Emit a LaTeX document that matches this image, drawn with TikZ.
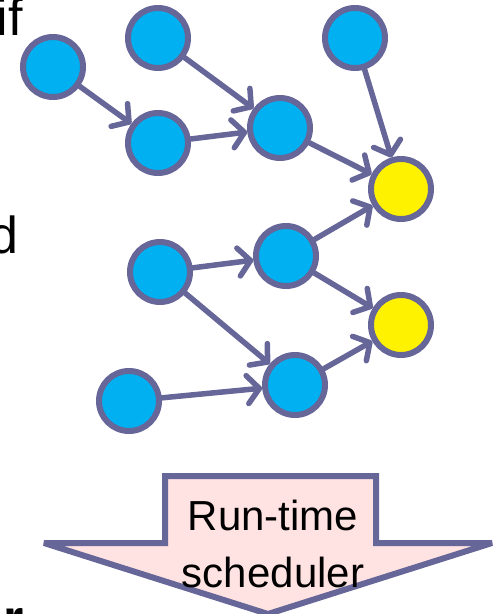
\documentclass[tikz,border=0pt]{standalone}
\usepackage{fontspec}
\setmainfont{Liberation Sans}
\usetikzlibrary{arrows.meta}
\definecolor{edgec}{RGB}{102,102,153}
\definecolor{bluec}{RGB}{0,176,240}
\definecolor{pinkc}{RGB}{255,226,226}
\begin{document}
\begin{tikzpicture}[x=1pt,y=-1pt,
  task/.style={circle,draw=edgec,line width=6pt,fill=bluec,minimum size=60pt,inner sep=0pt,outer sep=3pt},
  sink/.style={task,fill=yellow},
  dep/.style={draw=edgec,line width=5.5pt,line cap=round,-{Straight Barb[length=12pt,width=28pt,round]}},
  big/.style={font=\fontsize{52}{60}\selectfont,inner sep=0pt},
  lbl/.style={font=\fontsize{42}{57}\selectfont,inner sep=0pt}]
\useasboundingbox (0,0) rectangle (493,614);
% clipped side texts
\node[big,anchor=base east] (tif) at (23,35) {if};
\node[big,anchor=base east] (td) at (19,253) {d};
\node[big,anchor=base west,font=\fontsize{52}{60}\selectfont\bfseries] (tr) at (3,636) {r};
% tasks
\node[task] (A) at (53,67) {};
\node[task] (B) at (158,38) {};
\node[task] (C) at (355,38) {};
\node[task] (D) at (158,143) {};
\node[task] (E) at (280,128) {};
\node[sink] (F) at (401,189) {};
\node[task] (G) at (286,256) {};
\node[task] (H) at (160,272) {};
\node[sink] (I) at (401,325) {};
\node[task] (J) at (295,385) {};
\node[task] (K) at (129,401) {};
% dependencies
\draw[dep] (A) -- (D);
\draw[dep] (B) -- (E);
\draw[dep] (D) -- (E);
\draw[dep] (E) -- (F);
\draw[dep] (C) -- (F);
\draw[dep] (G) -- (F);
\draw[dep] (G) -- (I);
\draw[dep] (H) -- (G);
\draw[dep] (H) -- (J);
\draw[dep] (K) -- (J);
\draw[dep] (J) -- (I);
% scheduler arrow
\draw[draw=edgec,fill=pinkc,line width=6pt,line join=miter,miter limit=4]
  (165,476) -- (376,476) -- (376,543) -- (492,543) -- (268,614) -- (44,543) -- (165,543) -- cycle;
\node[lbl,anchor=base] (s1) at (273,530) {Run-time};
\node[lbl,anchor=base] (s2) at (273,587) {scheduler};
\end{tikzpicture}
\end{document}
